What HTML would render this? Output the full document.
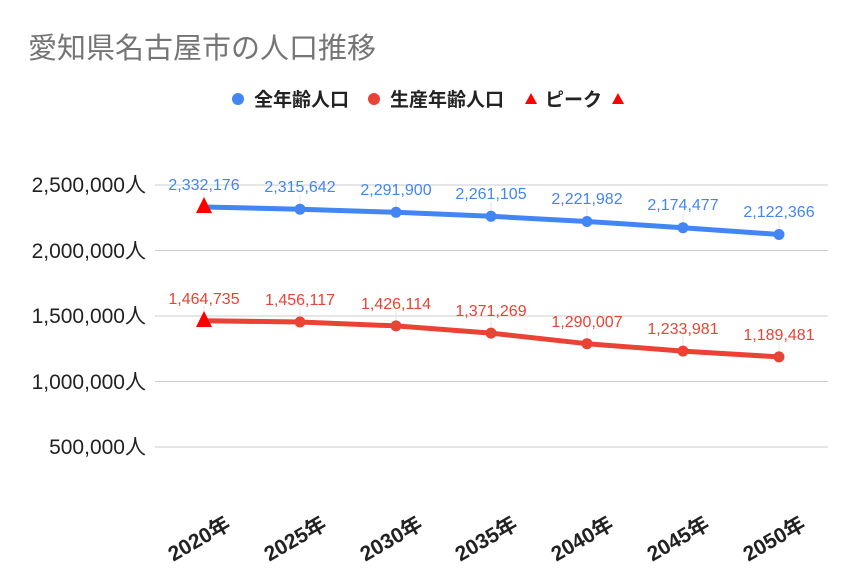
<!DOCTYPE html>
<html><head><meta charset="utf-8"><style>body{margin:0;background:#fff}svg{display:block}</style></head><body>
<svg width="857" height="586" xmlns="http://www.w3.org/2000/svg" font-family="'Liberation Sans','Noto Sans CJK JP',sans-serif">
<text x="28" y="58" font-size="29" fill="#757575">愛知県名古屋市の人口推移</text>
<g font-size="19" font-weight="bold" fill="#222">
<circle cx="238" cy="99" r="6" fill="#4285f4"/><text x="254" y="106">全年齢人口</text>
<circle cx="374" cy="99" r="6" fill="#ea4335"/><text x="390" y="106">生産年齢人口</text>
<polygon points="531,93 537,104 525,104" fill="#f00"/><text x="545" y="106">ピーク</text>
<polygon points="618,93 624,104 612,104" fill="#f00"/>
</g>
<g stroke="#ccc" stroke-width="1">
<line x1="155" x2="828" y1="185" y2="185"/><line x1="155" x2="828" y1="250.5" y2="250.5"/><line x1="155" x2="828" y1="316" y2="316"/><line x1="155" x2="828" y1="381.5" y2="381.5"/><line x1="155" x2="828" y1="447" y2="447"/>
</g>
<g font-size="21" fill="#222" text-anchor="end">
<text x="146" y="192">2,500,000人</text><text x="146" y="258">2,000,000人</text><text x="146" y="323">1,500,000人</text><text x="146" y="389">1,000,000人</text><text x="146" y="454">500,000人</text>
</g>
<g stroke="#e4e4e4" stroke-width="1">
<line x1="204" x2="204" y1="193" y2="207"/><line x1="300" x2="300" y1="195" y2="209"/><line x1="396" x2="396" y1="198" y2="212"/><line x1="491" x2="491" y1="202" y2="216"/><line x1="587" x2="587" y1="207" y2="221"/><line x1="683" x2="683" y1="213" y2="228"/><line x1="779" x2="779" y1="220" y2="234"/>
<line x1="204" x2="204" y1="306" y2="321"/><line x1="300" x2="300" y1="307" y2="322"/><line x1="396" x2="396" y1="311" y2="326"/><line x1="491" x2="491" y1="318" y2="333"/><line x1="587" x2="587" y1="329" y2="344"/><line x1="683" x2="683" y1="336" y2="351"/><line x1="779" x2="779" y1="342" y2="357"/>
</g>
<polyline fill="none" stroke="#4285f4" stroke-width="5" stroke-linejoin="round" points="204,207 300,209.2 396,212.3 491,216.3 587,221.5 683,227.7 779,234.5"/>
<polyline fill="none" stroke="#ea4335" stroke-width="5" stroke-linejoin="round" points="204,320.8 300,322 396,325.9 491,333.1 587,343.7 683,351.1 779,356.9"/>
<g fill="#4285f4"><circle cx="300" cy="209.2" r="5.5"/><circle cx="396" cy="212.3" r="5.5"/><circle cx="491" cy="216.3" r="5.5"/><circle cx="587" cy="221.5" r="5.5"/><circle cx="683" cy="227.7" r="5.5"/><circle cx="779" cy="234.5" r="5.5"/></g>
<g fill="#ea4335"><circle cx="300" cy="322" r="5.5"/><circle cx="396" cy="325.9" r="5.5"/><circle cx="491" cy="333.1" r="5.5"/><circle cx="587" cy="343.7" r="5.5"/><circle cx="683" cy="351.1" r="5.5"/><circle cx="779" cy="356.9" r="5.5"/></g>
<polygon points="204,197 212,213 196,213" fill="#f00"/>
<polygon points="204,311 212,327 196,327" fill="#f00"/>
<g font-size="16" fill="#4285f4" text-anchor="middle">
<text x="204" y="190">2,332,176</text><text x="300" y="192">2,315,642</text><text x="396" y="195">2,291,900</text><text x="491" y="199">2,261,105</text><text x="587" y="204">2,221,982</text><text x="683" y="210">2,174,477</text><text x="779" y="217">2,122,366</text>
</g>
<g font-size="16" fill="#ea4335" text-anchor="middle">
<text x="204" y="304">1,464,735</text><text x="300" y="305">1,456,117</text><text x="396" y="309">1,426,114</text><text x="491" y="316">1,371,269</text><text x="587" y="327">1,290,007</text><text x="683" y="334">1,233,981</text><text x="779" y="340">1,189,481</text>
</g>
<g font-size="21" font-weight="bold" fill="#222" text-anchor="end">
<text transform="translate(232,528) rotate(-30)">2020年</text>
<text transform="translate(328,528) rotate(-30)">2025年</text>
<text transform="translate(424,528) rotate(-30)">2030年</text>
<text transform="translate(519,528) rotate(-30)">2035年</text>
<text transform="translate(615,528) rotate(-30)">2040年</text>
<text transform="translate(711,528) rotate(-30)">2045年</text>
<text transform="translate(807,528) rotate(-30)">2050年</text>
</g>
</svg>
</body></html>
